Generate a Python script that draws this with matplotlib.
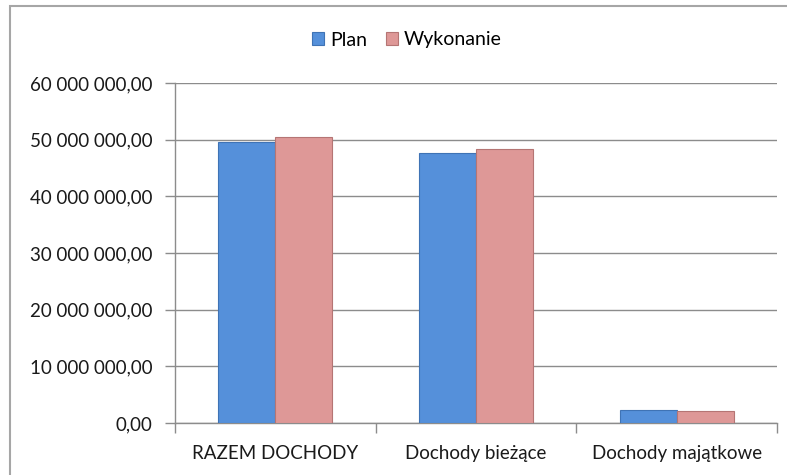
import matplotlib
matplotlib.use("Agg")
import matplotlib.pyplot as plt
import numpy as np
from matplotlib.ticker import FuncFormatter, FixedLocator
from matplotlib.patches import Rectangle

categories = ["RAZEM DOCHODY", "Dochody bieżące", "Dochody majątkowe"]
plan = [49600000, 47600000, 2300000]
wykonanie = [50500000, 48300000, 2100000]
series_names = ["Plan", "Wykonanie"]

plt.rcParams['font.family'] = ['Lato', 'DejaVu Sans']

fig = plt.figure(figsize=(7.87, 4.75), dpi=100)
fig.patch.set_facecolor("white")
ax = fig.add_axes([175/787, 1-423/475, 602/787, (423-83)/475])

x = np.arange(len(categories))
w = 0.284
c_plan = "#5590DA"
c_wyk = "#DE9897"
b1 = ax.bar(x - w/2, plan, w, color=c_plan, edgecolor="#3F73B5", linewidth=0.8, label=series_names[0], zorder=3)
b2 = ax.bar(x + w/2, wykonanie, w, color=c_wyk, edgecolor="#B57574", linewidth=0.8, label=series_names[1], zorder=3)

ax.set_xlim(-0.5, len(categories) - 0.5)
ax.set_ylim(0, 60000000)
ax.set_yticks(np.arange(0, 60000001, 10000000))

def fmt(v, pos):
    s = f"{int(round(v)):,}".replace(",", " ")
    return s + ",00"
ax.yaxis.set_major_formatter(FuncFormatter(fmt))

ax.grid(axis="y", color="#8c8c8c", linewidth=1.0, zorder=0)
ax.set_axisbelow(True)
for s in ["top", "right"]:
    ax.spines[s].set_visible(False)
for s in ["left", "bottom"]:
    ax.spines[s].set_color("#8c8c8c")
    ax.spines[s].set_linewidth(1.0)

ax.set_xticks(x)
ax.set_xticklabels(categories, fontsize=13.5, color="#1a1a1a")
ax.tick_params(axis="x", length=0, pad=16)
ax.xaxis.set_minor_locator(FixedLocator(np.arange(-0.5, len(categories), 1.0)))
ax.tick_params(axis="x", which="minor", length=7, color="#8c8c8c", width=1.0)
ax.tick_params(axis="y", length=7, color="#8c8c8c", width=1.0, labelsize=13.5, labelcolor="#1a1a1a", pad=9)

leg = fig.legend(handles=[b1, b2], labels=series_names, loc="center", bbox_to_anchor=(407/787, 1-40/475),
                 ncol=2, frameon=False, fontsize=14, handlelength=0.6, handleheight=0.6,
                 handletextpad=0.3, columnspacing=1.0)

fig.patches.append(Rectangle((10/787, -0.1), 1.2, (1-6/475) + 0.1, transform=fig.transFigure,
                             fill=False, edgecolor="#a6a6a6", linewidth=1.5, zorder=10))

fig.savefig("out.png", dpi=100)
